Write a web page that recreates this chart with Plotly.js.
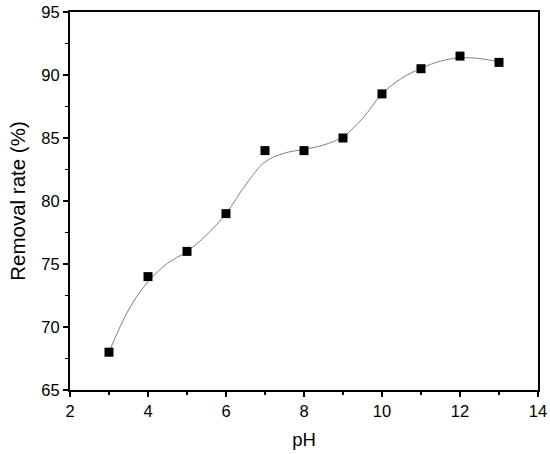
<!DOCTYPE html>
<html>
<head>
<meta charset="utf-8">
<script src="https://cdn.plot.ly/plotly-3.0.1.min.js"></script>
<style>html,body{margin:0;padding:0;background:#fff;}#chart{width:550px;height:454px;}</style>
</head>
<body>
<div id="chart"></div>
<script>
// Measured data points
const pH = [3, 4, 5, 6, 7, 8, 9, 10, 11, 12, 13];
const removalRate = [68, 74, 76, 79, 84, 84, 85, 88.5, 90.5, 91.5, 91];

// Smoothed fit curve
const curvePH = [3, 3.5, 4, 4.5, 5, 5.5, 6, 6.5, 7, 7.5, 8, 8.5, 9, 9.5, 10, 10.5, 11, 11.5, 12, 12.5, 13];
const curveRate = [68, 71.35, 73.6, 75.05, 76.0, 77.3, 79.0, 81.27, 83.1, 83.8, 84.1, 84.44, 85.1, 86.55, 88.5, 89.73, 90.53, 91.1, 91.37, 91.3, 91.06];

const FONT = 'Arial, "Liberation Sans", sans-serif';

const traces = [
  {
    x: curvePH, y: curveRate, type: 'scatter', mode: 'lines',
    line: {color: '#7f7f7f', width: 1, shape: 'spline', smoothing: 1},
    hoverinfo: 'skip', showlegend: false
  },
  {
    x: pH, y: removalRate, type: 'scatter', mode: 'markers',
    marker: {symbol: 'square', size: 9, color: '#000000'},
    showlegend: false
  }
];

const layout = {
  width: 550, height: 454,
  margin: {l: 70, r: 12, t: 12, b: 64},
  paper_bgcolor: '#fff', plot_bgcolor: '#fff',
  font: {family: FONT, color: '#000', size: 16},
  xaxis: {
    showgrid: false, zeroline: false,
    showline: true, linecolor: '#000', linewidth: 2, mirror: true,
    ticks: 'outside', ticklen: 5, tickwidth: 1.5, tickcolor: '#000',
    tickfont: {family: FONT, size: 16.5, color: '#000'},
    range: [2, 14], dtick: 2, tick0: 2,
    minor: {dtick: 1, ticks: 'outside', ticklen: 3, tickwidth: 1.2, tickcolor: '#000', showgrid: false},
    title: {text: 'pH', font: {family: FONT, size: 18.5, color: '#000'}, standoff: 14}
  },
  yaxis: {
    showgrid: false, zeroline: false,
    showline: true, linecolor: '#000', linewidth: 2, mirror: true,
    ticks: 'outside', ticklen: 5, tickwidth: 1.5, tickcolor: '#000',
    tickfont: {family: FONT, size: 16.5, color: '#000'},
    range: [65, 95], dtick: 5, tick0: 65,
    minor: {dtick: 2.5, ticks: 'outside', ticklen: 3, tickwidth: 1.2, tickcolor: '#000', showgrid: false},
    title: {text: 'Removal rate (%)', font: {family: FONT, size: 20.5, color: '#000'}, standoff: 10}
  }
};

Plotly.newPlot('chart', traces, layout, {displayModeBar: false, staticPlot: true});
</script>
</body>
</html>
